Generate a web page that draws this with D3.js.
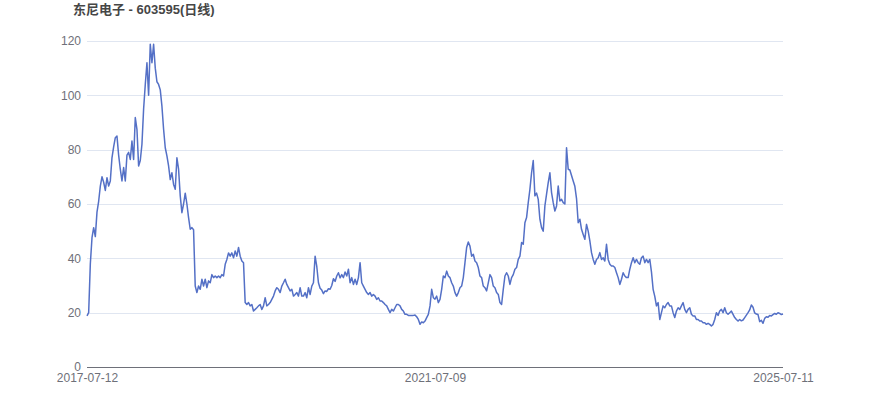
<!DOCTYPE html>
<html><head><meta charset="utf-8">
<script src="https://cdn.jsdelivr.net/npm/d3@7"></script>
<style>body{margin:0;background:#fff;}svg{display:block;font-family:"Liberation Sans",Arial,sans-serif;}</style>
</head><body>
<div id="chart"></div>
<script>
const title = "东尼电子 - 603595(日线)";
const xTickLabels = ["2017-07-12", "2021-07-09", "2025-07-11"];
const yTicks = [0, 20, 40, 60, 80, 100, 120];
const closePrices = [
18.8,20,38,47.6,51.3,48,57,61,66.6,70,68,65,69.7,66.6,68.5,77,81,84.4,85,78,72.8,68.5,73.4,68.5,78,79,76.4,83.2,76.4,91.8,87.5,74,76,82,95,104,112,100,118.8,112,118.8,110,105,104,102,96,87.5,80.7,77.7,74,69,71.5,67.2,65.4,77,72.8,63,56.8,60,64,60,55,50.7,
51.3,50.5,29.8,27.4,29.8,28.6,32.3,29.8,32.3,29.2,31.7,31,34,32.9,33.5,32.9,33.5,32.9,34,33.5,37.8,39.6,42,40.8,42,40.2,42.7,40.8,44,40.8,39,38.4,23.7,23,23.7,22.5,23,20.6,21.2,21.8,22.5,23,21.2,22.5,25.5,22.5,23,23.7,24.9,26.1,28,29.2,28.6,27.4,29.8,31,32.3,30.4,29.2,28,28.6,26.1,26.7,27.4,26.1,29.2,
26.1,26.1,27.4,25.5,29.2,26.7,29.8,31,40.8,37,31,29,28.3,27,28,27.8,28.8,28.6,30,32.5,31.5,33.5,34.7,32.8,34,32.9,35,33.5,36,31,32.9,30.4,32.3,30.4,32.9,38.4,31,29.8,28.6,27.4,26.7,27.4,26.1,26.7,26.1,24.9,25.5,24.3,24.3,23.7,23,22.5,21.2,20,21.2,20.6,21.8,23,23,22.5,21.2,20.6,19.4,19.4,19,19,
19,19,19.1,18.5,17.5,15.7,16.6,16.3,16.9,18.2,19.4,22.5,28.6,25.5,25,26.1,23.7,24.9,28.6,33.5,32.9,35.3,33.5,32.9,31,29.8,27.4,26.1,27.4,29.2,29.8,32.9,38.4,44,46,44.5,40.8,41.5,39,38.4,36.6,33.5,32.9,29.8,29.2,28,31,34,32.9,29.8,29.2,27.4,26.7,23.7,23,28.6,33.5,34.7,33.5,30.4,32.9,34,36,36.6,39.6,40.8,
45.8,45.2,53.1,55,60.5,65.4,71.5,76,63,64,61.7,54.4,51.3,50,59.3,63.6,67.9,71.5,64.2,60.5,57.4,59.3,66.6,61.1,61.7,60.5,60,80.7,72.8,72.5,70.5,68.5,66.5,62,53.1,54.4,50.7,48.8,47,52.5,50,46.4,42.1,39.6,37.8,39.6,40.2,42.1,39.6,40.2,39,45.2,39.6,37.8,37.2,37.2,36.6,34.7,32.9,30.4,32.3,34.7,33.5,32.9,32.9,36,
38.4,40.2,38.4,39.6,38.4,37.8,40.2,40.8,38.4,39.6,38.4,39.6,35,28.6,26,22.5,23.7,17.5,20,22.5,21.8,23,23.7,22.5,22.5,20,18.2,20.6,21.8,21.2,22.5,23.7,21.2,20,21.2,21.8,19.4,18.8,18.8,17.5,17.5,16.9,16.9,16.3,16.3,15.7,16.1,15.7,15.1,15.7,17.5,20,19,20.6,21.2,20,21.8,20,19.4,20,20.6,19.4,18.2,17.5,16.9,17.5,
17,17.3,18.2,19.1,20,21,22.8,22,19.9,19.5,19.3,16.7,17.2,16.1,17.9,18.5,18.3,19,18.8,19.3,19.7,19.4,20,19.7,19.3,19.5
];

const W = 870, H = 417;
const margin = {left: 87, right: 87, top: 41, bottom: 50};
const svg = d3.select("#chart").append("svg").attr("width", W).attr("height", H);

const x = d3.scaleLinear().domain([0, closePrices.length - 1]).range([margin.left, W - margin.right]);
const y = d3.scaleLinear().domain([0, 120]).range([H - margin.bottom, margin.top]);

// grid
svg.append("g").selectAll("line").data(yTicks.filter(d => d > 0)).join("line")
  .attr("x1", margin.left).attr("x2", W - margin.right)
  .attr("y1", d => Math.round(y(d)) + 0.5).attr("y2", d => Math.round(y(d)) + 0.5)
  .attr("stroke", "#e0e6f1").attr("stroke-width", 1);

// y labels
const yAxis = d3.axisLeft(y).tickValues(yTicks).tickSize(0).tickPadding(6);
const gy = svg.append("g").attr("transform", `translate(${margin.left},0)`).call(yAxis);
gy.select(".domain").remove();
gy.selectAll("text").attr("fill", "#6e7079").style("font-size", "12px").attr("x", -6);

// x axis
const xTickIdx = [0, (closePrices.length - 1) / 2, closePrices.length - 1];
const xAxis = d3.axisBottom(x).tickValues(xTickIdx).tickSize(0).tickPadding(6)
  .tickFormat((d, i) => xTickLabels[i]);
const gx = svg.append("g").attr("transform", `translate(0,${Math.round(y(0)) + 0.5})`).call(xAxis);
gx.select(".domain").attr("stroke", "#6e7079").attr("d", `M${margin.left},0H${W - margin.right}`);
gx.selectAll("text").attr("fill", "#6e7079").style("font-size", "12px");

// line
const line = d3.line().x((d, i) => x(i)).y(d => y(d));
svg.append("path").datum(closePrices)
  .attr("fill", "none").attr("stroke", "#5470c6").attr("stroke-width", 1.5)
  .attr("stroke-linejoin", "round").attr("d", line);

// title
svg.append("text").attr("x", 73).attr("y", 14)
  .attr("fill", "#464646").style("font-size", "13px").style("font-weight", "bold")
  .style("font-family", "'Liberation Sans','Noto Sans CJK SC',sans-serif")
  .text(title);
</script>
</body></html>
